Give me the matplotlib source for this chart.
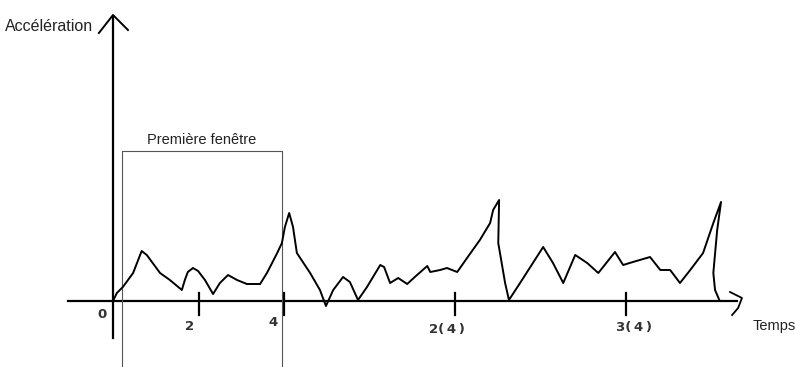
import matplotlib.pyplot as plt

# time (s) and acceleration (arbitrary units)
temps = [0.0, 0.09, 0.23, 0.47, 0.67, 0.79, 1.10, 1.33, 1.61, 1.68, 1.75, 1.87,
         1.99, 2.15, 2.34, 2.50, 2.69, 2.90, 3.13, 3.44, 3.60, 3.84, 3.95, 4.02,
         4.12, 4.21, 4.30, 4.61, 4.84, 4.98, 5.15, 5.38, 5.54, 5.73, 5.94, 6.25,
         6.34, 6.48, 6.67, 6.88, 7.11, 7.35, 7.42, 7.65, 7.81, 8.05, 8.28, 8.58,
         8.82, 8.89, 9.03, 9.01, 9.17, 9.26, 9.52, 9.82, 10.06, 10.29, 10.53,
         10.81, 11.09, 11.35, 11.74, 11.93, 12.16, 12.56, 12.80, 13.03, 13.26,
         13.50, 13.80, 14.04, 14.22, 14.13, 14.04, 14.08, 14.18]
acceleration = [0.0, 0.8, 1.4, 2.8, 5.0, 4.6, 2.8, 2.1, 1.1, 2.1, 2.9, 3.3,
                3.0, 2.1, 0.7, 1.8, 2.6, 2.1, 1.7, 1.7, 2.8, 4.8, 5.8, 7.4,
                8.8, 7.4, 4.8, 2.8, 1.1, -0.5, 1.1, 2.4, 1.9, 0.1, 1.4, 3.6,
                3.4, 1.8, 2.3, 1.7, 2.6, 3.5, 2.9, 3.1, 3.3, 2.9, 4.3, 6.1,
                7.8, 9.1, 10.1, 5.8, 1.8, 0.1, 1.8, 3.8, 5.4, 3.8, 1.8,
                4.6, 3.8, 2.8, 4.9, 3.6, 3.9, 4.4, 3.1, 3.1, 1.8,
                3.1, 4.8, 7.8, 9.9, 7.1, 2.8, 1.1, 0.1]

tick_pos = [2, 4, 8, 12]
tick_labels = ["2", "4", "2(\u20094\u2009)", "3(\u20094\u2009)"]

fenetre_debut = 0.21
fenetre_fin = 3.95
fenetre_haut = 15.0


def main():
    fig = plt.figure(figsize=(7.95, 3.67), dpi=100)
    ax = fig.add_axes([0, 0, 1, 1])
    ax.set_xlim(-2.643, 15.95)
    ax.set_ylim(-6.6, 30.1)
    ax.axis("off")

    # axes drawn by hand
    ax.plot([-1.05, 14.6], [0, 0], color="black", lw=1.6)
    ax.plot([0, 0], [-3.7, 28.4], color="black", lw=1.6)
    ax.plot([-0.33, 0, 0.35], [26.8, 28.6, 27.1], color="black", lw=1.4)
    ax.plot([14.43, 14.71, 14.62, 14.48], [0.9, 0.3, -0.7, -1.4], color="black", lw=1.3)

    # ticks
    for t in tick_pos:
        ax.plot([t, t], [0.8, -1.4], color="black", lw=1.6)
    ax.text(-0.26, -1.4, "0", ha="center", va="center", fontsize=9.5,
            fontweight="semibold", color="#333333")
    offsets = [-2.5, -2.1, -2.8, -2.7]
    shifts = [-0.2, -0.26, -0.19, 0.19]
    for t, lab, dy, dx in zip(tick_pos, tick_labels, offsets, shifts):
        ax.text(t + dx, dy, lab, ha="center", va="center", fontsize=9.5,
                fontweight="semibold", color="#333333")

    # first window
    ax.plot([fenetre_debut, fenetre_debut, fenetre_fin, fenetre_fin],
            [-6.6, fenetre_haut, fenetre_haut, -6.6], color="#555555", lw=0.8)
    ax.text((fenetre_debut + fenetre_fin) / 2, 16.1, "Première fenêtre",
            ha="center", va="center", fontsize=10.5, family="Liberation Sans",
            color="#222222")

    # signal
    ax.plot(temps, acceleration, color="black", lw=1.4)

    ax.text(-2.52, 27.5, "Accélération", ha="left", va="center", fontsize=11.5,
            family="Liberation Sans", color="#222222")
    ax.text(14.95, -2.5, "Temps", ha="left", va="center", fontsize=10.5,
            family="Liberation Sans", color="#222222")

    fig.savefig("out.png", dpi=100)


if __name__ == "__main__":
    main()
